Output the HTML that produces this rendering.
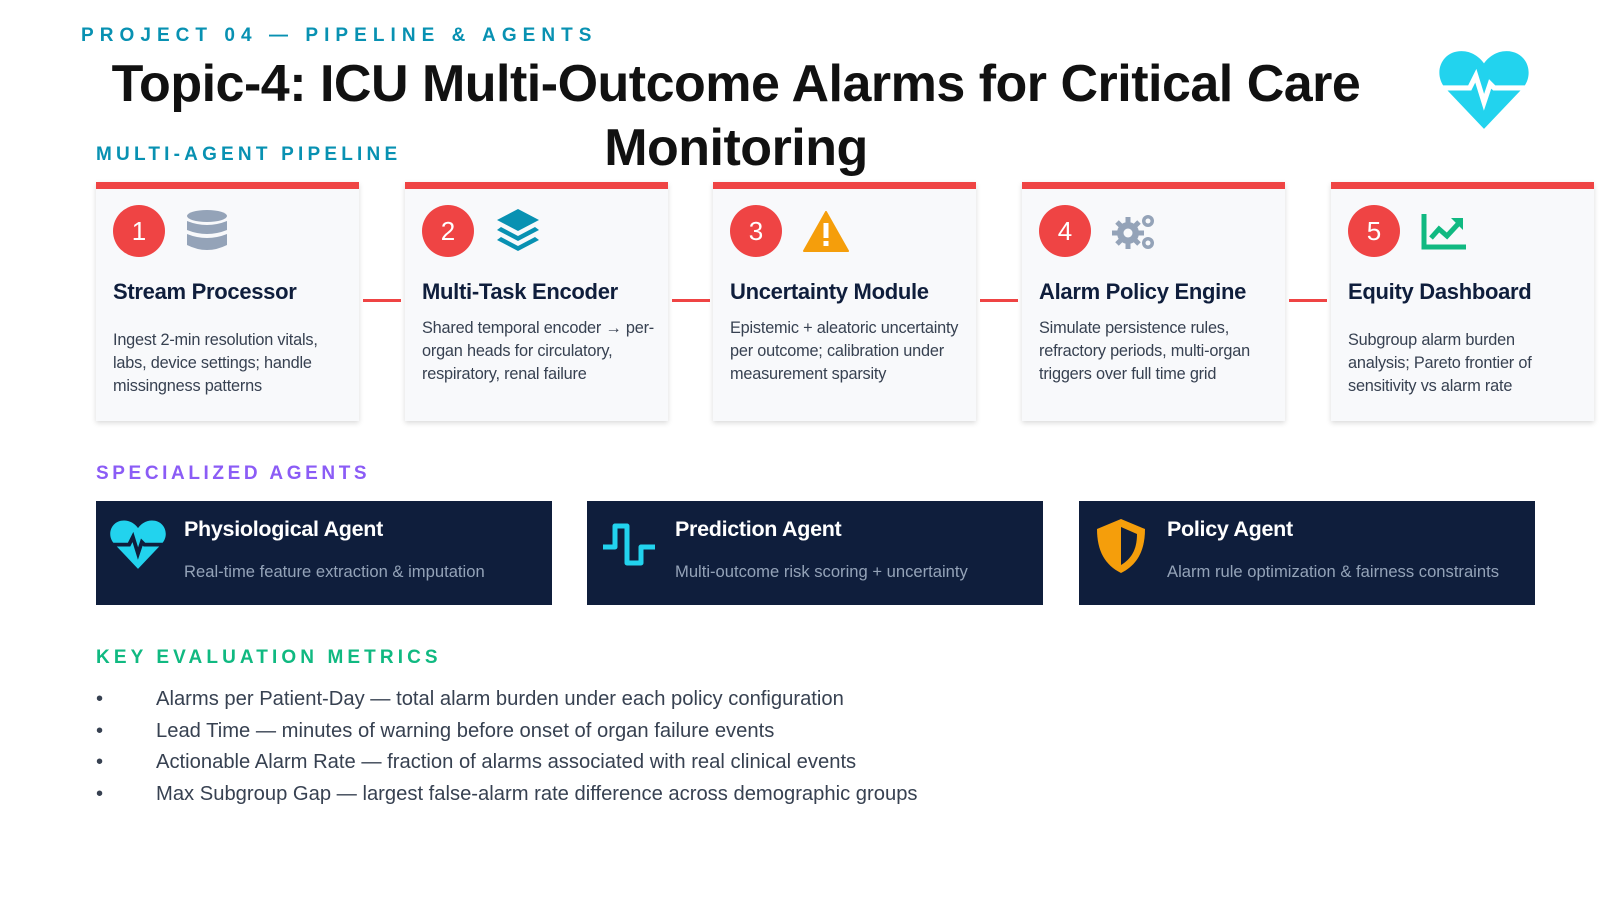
<!DOCTYPE html>
<html><head><meta charset="utf-8"><style>
*{margin:0;padding:0;box-sizing:border-box}
body{width:1600px;height:900px;background:#fff;font-family:"Liberation Sans",sans-serif;position:relative;overflow:hidden}
.abs{position:absolute}
.kick{font-weight:bold;font-size:19px;white-space:nowrap}
.card{position:absolute;top:182px;width:263px;height:239px;background:#f8f9fb;border-top:7px solid #ef4444;box-shadow:0 2px 5px rgba(0,0,0,.15)}
.num{position:absolute;left:17px;top:16px;width:52px;height:52px;border-radius:50%;background:#ef4444;color:#fff;font-size:26px;text-align:center;line-height:52px}
.ct{position:absolute;left:17px;top:90px;font-size:22px;font-weight:bold;color:#0f1e3c;white-space:nowrap;letter-spacing:-0.3px}
.cd{position:absolute;left:17px;font-size:16.3px;line-height:23px;color:#374151;width:232px;letter-spacing:-0.2px}
.ic{position:absolute;left:90px;top:20px}
.conn{position:absolute;top:299px;height:3px;background:#ef4444}
.agent{position:absolute;top:501px;width:456px;height:104px;background:#0f1e3c}
.at{position:absolute;left:88px;top:16px;color:#fff;font-size:21.5px;font-weight:bold;letter-spacing:-0.3px}
.ad{position:absolute;left:88px;top:61px;color:#94a3b8;font-size:16.6px}
.agent svg{position:absolute;left:14px;top:18px}
ul{position:absolute;left:96px;top:686px;list-style:none}
li{font-size:20.2px;color:#374151;height:31.6px;line-height:26px;position:relative;padding-left:60px;white-space:nowrap}
li:before{content:"•";position:absolute;left:0;}
</style></head><body>
<div class="abs kick" style="left:81px;top:25px;color:#0891b2;letter-spacing:6.05px">PROJECT 04 — PIPELINE &amp; AGENTS</div>
<div class="abs" style="left:96px;top:52px;width:1280px;text-align:center;font-size:52px;font-weight:bold;color:#111;line-height:64px;letter-spacing:-0.5px">Topic-4: ICU Multi-Outcome Alarms for Critical Care Monitoring</div>
<svg class="abs" style="left:1439px;top:49px" width="90" height="80" viewBox="0 0 88 78"><path d="M44 78 L6 38 C-6 24 2 2 22 2 C32 2 40 8 44 14 C48 8 56 2 66 2 C86 2 94 24 82 38 Z" fill="#22d3ee"/><polyline points="4,38 30,38 36,26 44,52 50,34 54,38 84,38" fill="none" stroke="#fff" stroke-width="5"/></svg>
<div class="abs kick" style="left:96px;top:144px;color:#0891b2;letter-spacing:4.2px">MULTI-AGENT PIPELINE</div>

<div class="card" style="left:96px"><div class="num">1</div>
<svg class="ic" width="42" height="44" viewBox="0 0 42 44"><g fill="#94a3b8"><ellipse cx="21" cy="7" rx="20" ry="6"/><path d="M1 12 Q21 20 41 12 V21 Q21 29 1 21Z"/><path d="M1 25 Q21 33 41 25 V36 Q21 46 1 36Z"/></g></svg>
<div class="ct">Stream Processor</div><div class="cd" style="top:140px">Ingest 2-min resolution vitals, labs, device settings; handle missingness patterns</div></div>
<div class="conn" style="left:363px;width:38px"></div>
<div class="card" style="left:405px"><div class="num">2</div>
<svg class="ic" width="46" height="46" viewBox="0 0 46 46" style="top:18px"><g fill="#0891b2"><path d="M23 2 L44 13 L23 24 L2 13Z"/><path d="M6 20 L23 29 L40 20 L44 23 L23 34 L2 23Z"/><path d="M6 30 L23 39 L40 30 L44 33 L23 44 L2 33Z"/></g></svg>
<div class="ct">Multi-Task Encoder</div><div class="cd" style="top:128px">Shared temporal encoder → per-organ heads for circulatory, respiratory, renal failure</div></div>
<div class="conn" style="left:672px;width:38px"></div>
<div class="card" style="left:713px"><div class="num">3</div>
<svg class="ic" width="46" height="42" viewBox="0 0 46 42" style="top:22px"><path d="M23 1 L45 40 L1 40Z" fill="#f59e0b" stroke="#f59e0b" stroke-linejoin="round" stroke-width="2"/><rect x="20.5" y="12" width="5" height="15" fill="#fff"/><rect x="20.5" y="30" width="5" height="5" fill="#fff"/></svg>
<div class="ct">Uncertainty Module</div><div class="cd" style="top:128px">Epistemic + aleatoric uncertainty per outcome; calibration under measurement sparsity</div></div>
<div class="conn" style="left:980px;width:38px"></div>
<div class="card" style="left:1022px"><div class="num">4</div>
<svg class="ic" width="46" height="40" viewBox="0 0 46 40" style="top:24px"><g fill="#94a3b8"><circle cx="16" cy="20" r="11"/><g stroke="#94a3b8" stroke-width="5"><line x1="16" y1="4" x2="16" y2="36"/><line x1="0" y1="20" x2="32" y2="20"/><line x1="5" y1="9" x2="27" y2="31"/><line x1="27" y1="9" x2="5" y2="31"/></g><circle cx="36" cy="8" r="6"/><circle cx="36" cy="30" r="6"/></g><circle cx="16" cy="20" r="4.5" fill="#f8f9fb"/><circle cx="36" cy="8" r="2.5" fill="#f8f9fb"/><circle cx="36" cy="30" r="2.5" fill="#f8f9fb"/></svg>
<div class="ct">Alarm Policy Engine</div><div class="cd" style="top:128px">Simulate persistence rules, refractory periods, multi-organ triggers over full time grid</div></div>
<div class="conn" style="left:1289px;width:38px"></div>
<div class="card" style="left:1331px"><div class="num">5</div>
<svg class="ic" width="46" height="36" viewBox="0 0 46 36" style="top:25px"><g fill="none" stroke="#10b981" stroke-width="5"><polyline points="3,0 3,33 45,33"/><polyline points="10,24 18,15 26,22 38,9"/></g><path d="M30 4 L42 4 L42 16Z" fill="#10b981"/></svg>
<div class="ct">Equity Dashboard</div><div class="cd" style="top:140px">Subgroup alarm burden analysis; Pareto frontier of sensitivity vs alarm rate</div></div>

<div class="abs kick" style="left:96px;top:463px;color:#8b5cf6;letter-spacing:3.6px">SPECIALIZED AGENTS</div>
<div class="agent" style="left:96px"><svg width="56" height="50" viewBox="0 0 88 78"><path d="M44 78 L6 38 C-6 24 2 2 22 2 C32 2 40 8 44 14 C48 8 56 2 66 2 C86 2 94 24 82 38 Z" fill="#22d3ee"/><polyline points="4,40 30,40 36,28 44,54 50,36 54,40 84,40" fill="none" stroke="#0f1e3c" stroke-width="6"/></svg>
<div class="at">Physiological Agent</div><div class="ad">Real-time feature extraction &amp; imputation</div></div>
<div class="agent" style="left:587px"><svg width="56" height="46" viewBox="0 0 56 46" style="top:22px"><polyline points="2,24 14,24 14,3 26,3 26,40 40,40 40,24 54,24" fill="none" stroke="#22d3ee" stroke-width="5" stroke-linejoin="round"/></svg>
<div class="at">Prediction Agent</div><div class="ad">Multi-outcome risk scoring + uncertainty</div></div>
<div class="agent" style="left:1079px"><svg width="56" height="58" viewBox="0 0 56 58" style="top:16px"><path d="M28 2 L52 12 C52 34 44 48 28 56 C12 48 4 34 4 12Z" fill="#f59e0b"/><path d="M28 10 L44 17 C44 33 38 42 28 48Z" fill="#0f1e3c"/></svg>
<div class="at">Policy Agent</div><div class="ad">Alarm rule optimization &amp; fairness constraints</div></div>

<div class="abs kick" style="left:96px;top:647px;color:#10b981;letter-spacing:4.1px">KEY EVALUATION METRICS</div>
<ul>
<li>Alarms per Patient-Day — total alarm burden under each policy configuration</li>
<li>Lead Time — minutes of warning before onset of organ failure events</li>
<li>Actionable Alarm Rate — fraction of alarms associated with real clinical events</li>
<li>Max Subgroup Gap — largest false-alarm rate difference across demographic groups</li>
</ul>
</body></html>
